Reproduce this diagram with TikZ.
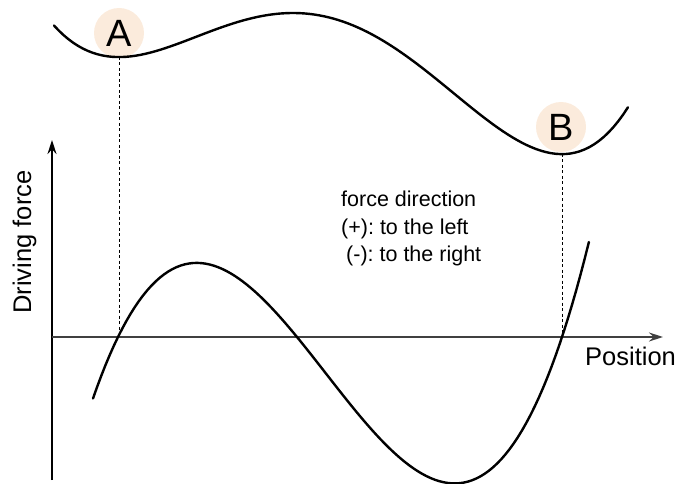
\documentclass[tikz,border=0pt]{standalone}
\usepackage{fontspec}
\setmainfont{Liberation Sans}
\usetikzlibrary{arrows.meta}
\definecolor{peach}{HTML}{FBEBDC}
\frenchspacing
\tikzset{
  curve/.style={line width=2.4pt, line cap=round, line join=round},
  axis/.style={line width=1.4pt, -{Stealth[length=14pt,width=9pt]}},
  guide/.style={line width=0.8pt, dash pattern=on 3pt off 2.5pt},
  well/.style={circle, fill=peach, minimum size=50pt, inner sep=0pt, font=\fontsize{38}{40}\selectfont},
  note/.style={anchor=base west, inner sep=0pt, font=\fontsize{21.5}{24}\selectfont},
  big/.style={inner sep=0pt, font=\fontsize{25.5}{28}\selectfont},
}
\begin{document}
\begin{tikzpicture}[x=1pt, y=-1pt]
\useasboundingbox (0,0) rectangle (675,484);
% circles
\node[well] (A) at (119,33) {A};
\node[well] (B) at (561,127) {B};
% energy curve (quartic with minima at A and B)
\draw[curve, domain=0.54:6.28, samples=120, variable=\u] plot
  ({100*\u}, {13-14.1*((\u^4)/4 - 9.74*(\u^3)/3 + 26.6411*(\u^2)/2 - 19.5953*\u + 6.2991)});
% axes
\coordinate (O) at (52,337);
\coordinate (ybot) at (52,480);
\coordinate (ytop) at (52,140);
\coordinate (xend) at (663,337);
\draw[axis] (ybot) -- (ytop);
\draw[axis, draw=black!75] (O) -- (xend);
% guides
\coordinate (Atop) at (119,57);
\coordinate (Abot) at (119,337);
\coordinate (Btop) at (562,154);
\coordinate (Bbot) at (562,337);
\draw[guide] (Atop) -- (Abot);
\draw[guide] (Btop) -- (Bbot);
% force curve (cubic)
\draw[curve, domain=0.93:5.89, samples=120, variable=\u] plot
  ({100*\u}, {337-25.7*(\u-1.18)*(\u-2.97)*(\u-5.62)});
% labels
\node[note] (t1) at (341,207) {force direction};
\node[note] (t2) at (341,234) {(+): to the left};
\node[note] (t3) at (346,261) {(-): to the right};
\node[big, anchor=base west] (pos) at (585,365) {Position};
\node[big, rotate=90, anchor=base] (df) at (31,242) {Driving force};
\end{tikzpicture}
\end{document}
